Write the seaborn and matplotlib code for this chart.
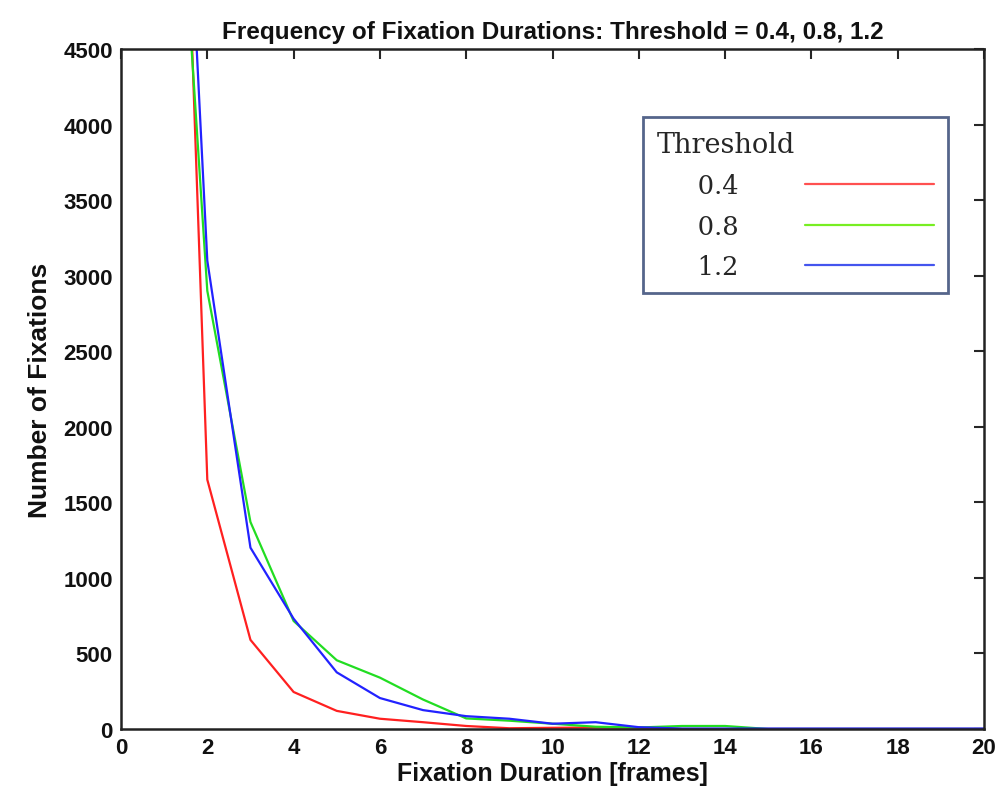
import pandas as pd
import matplotlib.pyplot as plt
import seaborn as sns

sns.set_style("white")

# Frequency of fixation durations for three thresholds
frames = list(range(1, 21))
thr_04 = [9800, 1650, 590, 245, 120, 68, 45, 20, 5, 8, 10, 8, 0, 0, 0, 0, 0, 0, 0, 0]
thr_08 = [7300, 2900, 1370, 715, 455, 340, 195, 70, 55, 35, 15, 10, 20, 20, 0, 0, 0, 0, 0, 0]
thr_12 = [8800, 3100, 1200, 730, 375, 205, 125, 85, 68, 35, 45, 12, 3, 3, 3, 3, 3, 3, 3, 3]
thresholds = ["0.4", "0.8", "1.2"]
colors = ["#ff2020", "#22dd22", "#2222ff"]
legend_colors = ["#ff5050", "#77ee22", "#4455ee"]

df = pd.DataFrame({
    "frames": frames * 3,
    "count": thr_04 + thr_08 + thr_12,
    "threshold": [t for t in thresholds for _ in frames],
})

sans = ["Liberation Sans", "DejaVu Sans"]

fig = plt.figure(figsize=(10, 8.03), dpi=100)
ax = fig.add_axes([0.121, 0.0909, 0.863, 0.8468])

sns.lineplot(data=df, x="frames", y="count", hue="threshold",
             palette=dict(zip(thresholds, colors)), linewidth=1.6,
             legend=False, ax=ax)

ax.set_xlim(0, 20)
ax.set_ylim(0, 4500)
ax.set_xticks(range(0, 21, 2))
ax.set_yticks(range(0, 4501, 500))
ax.tick_params(direction="in", top=True, right=True, length=7, width=1.5,
               pad=6, labelsize=16, labelcolor="#111111")
for lab in ax.get_xticklabels() + ax.get_yticklabels():
    lab.set_family(sans)
    lab.set_fontweight("bold")
for s in ax.spines.values():
    s.set_linewidth(1.8)
    s.set_color("#222222")

ax.set_title("Frequency of Fixation Durations: Threshold = 0.4, 0.8, 1.2",
             family=sans, fontweight="bold", fontsize=17.5, pad=8,
             color="#111111")
ax.set_xlabel("Fixation Duration [frames]", family=sans,
              fontweight="bold", fontsize=18, labelpad=2, color="#111111")
ax.set_ylabel("Number of Fixations", family=sans,
              fontweight="bold", fontsize=19, labelpad=8, color="#111111")

# legend: labels on the left, line samples on the right
handles = [plt.Line2D([], [], color=c, linewidth=1.6) for c in legend_colors]
leg = ax.legend(handles, ["     " + t for t in thresholds], title="Threshold",
                loc="upper right", bbox_to_anchor=(0.967, 0.912),
                markerfirst=False, handlelength=5.0, handletextpad=2.6,
                labelspacing=0.6, borderpad=0.55, borderaxespad=0.3,
                alignment="left", frameon=True, fancybox=False,
                prop={"family": "DejaVu Serif", "size": 18.5},
                title_fontproperties={"family": "DejaVu Serif", "size": 19.5})
leg.get_frame().set_edgecolor("#2b3f6e")
leg.get_frame().set_linewidth(2)

plt.savefig("out.png", dpi=100)
